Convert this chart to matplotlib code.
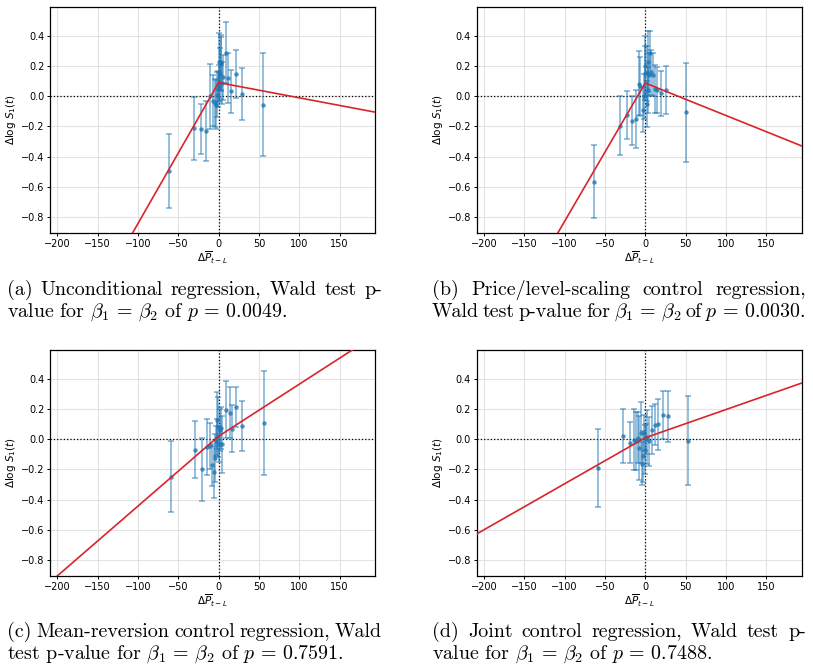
import numpy as np
import matplotlib
matplotlib.use('Agg')
import matplotlib.pyplot as plt
plt.close('all')

plt.rcParams['mathtext.fontset'] = 'cm'

# (a) unconditional regression
a_x = [-61, -31, -21.7, -15.5, -10.5, -7, -5, -3, -2, -1, 0, 1.5, 2.5, 3.5, 1, 4, 6, 9, 12, 16, 21.5, 28.5, 55.5, 0.5]
a_y = [-0.495, -0.213, -0.217, -0.23, 0.0, -0.03, -0.045, -0.055, 0.01, 0.05, 0.23, 0.15, 0.225, 0.215, 0.09, 0.09, 0.125, 0.29, 0.123, 0.032, 0.15, 0.016, -0.055, 0.06]
a_err = [0.245, 0.21, 0.168, 0.2, 0.215, 0.17, 0.16, 0.16, 0.15, 0.12, 0.19, 0.17, 0.18, 0.18, 0.12, 0.14, 0.15, 0.2, 0.165, 0.14, 0.158, 0.17, 0.344, 0.1]
a_fit = (0.091, 0.00935, -0.00101)   # intercept, slope below 0, slope above 0

# (b) price/level-scaling control
b_x = [-63.4, -31, -22, -16.1, -11.6, -8.3, -6.2, -3.3, -0.8, 0, -1.2, 2.5, 3.7, 5.8, 7, 9.1, 4.5, 11.6, 14.5, 19.5, 26, 50.1, 1.6, 2.9]
b_y = [-0.566, -0.195, -0.126, -0.161, -0.15, 0.082, 0.069, -0.088, 0.2, 0.153, 0.0, -0.051, 0.23, 0.285, 0.16, 0.144, 0.144, 0.049, 0.042, 0.02, 0.042, -0.106, 0.152, 0.042]
b_err = [0.24, 0.195, 0.16, 0.16, 0.19, 0.215, 0.19, 0.15, 0.2, 0.18, 0.15, 0.155, 0.2, 0.145, 0.15, 0.14, 0.14, 0.16, 0.15, 0.15, 0.16, 0.33, 0.18, 0.15]
b_fit = (0.088, 0.00917, -0.00215)

# (c) mean-reversion control
c_x = [-58.9, -29.5, -20.9, -14.5, -11, -8.2, -6.2, -4.1, -3.3, -2.4, -2, -0.8, 0.9, 2.1, 4.2, 3.3, 9.1, 13.7, 16.6, 21.5, 29.4, 56.8]
c_y = [-0.248, -0.069, -0.2, -0.053, -0.045, -0.172, -0.217, -0.124, -0.013, 0.015, 0.126, 0.082, -0.03, 0.06, -0.033, 0.075, 0.197, 0.177, 0.07, 0.214, 0.088, 0.106]
c_err = [0.237, 0.19, 0.21, 0.185, 0.15, 0.14, 0.17, 0.16, 0.1, 0.12, 0.19, 0.2, 0.12, 0.14, 0.19, 0.14, 0.19, 0.17, 0.155, 0.133, 0.167, 0.345]
c_fit = (0.02, 0.00463, 0.00345)

# (d) joint control
d_x = [-58, -27.3, -19.5, -14, -11.6, -9.1, -7.5, -5.8, -4.1, -2.9, -1.7, -0.8, 0.4, 2, 5, 8.7, 12.4, 15.7, 21.5, 28.2, 53.4]
d_y = [-0.192, 0.022, -0.022, -0.002, -0.011, 0.011, -0.057, 0.044, -0.161, -0.113, 0.042, -0.068, 0.0, 0.016, -0.014, 0.06, 0.097, 0.1, 0.159, 0.153, -0.011]
d_err = [0.257, 0.178, 0.137, 0.2, 0.19, 0.17, 0.21, 0.2, 0.14, 0.17, 0.12, 0.16, 0.1, 0.18, 0.16, 0.16, 0.135, 0.17, 0.16, 0.168, 0.295]
d_fit = (0.01, 0.00305, 0.00187)

# caption lines; True = justified to the full column width
captions = [
    [("(a) Unconditional regression, Wald test p-", True),
     (r"value for $\beta_1\,=\,\beta_2$ of $p\,=\,0.0049$.", False)],
    [("(b) Price/level-scaling control regression,", True),
     (r"Wald test p-value for $\beta_1\,=\,\beta_2$ of $p\,=\,0.0030$.", True)],
    [("(c) Mean-reversion control regression, Wald", True),
     (r"test p-value for $\beta_1\,=\,\beta_2$ of $p\,=\,0.7591$.", False)],
    [("(d) Joint control regression, Wald test p-", True),
     (r"value for $\beta_1\,=\,\beta_2$ of $p\,=\,0.7488$.", False)],
]


def draw_panel(ax, x, y, err, fit):
    b0, s_neg, s_pos = fit
    ax.grid(True, color='#dddddd', lw=0.8, alpha=0.8)
    ax.set_axisbelow(True)
    ax.axhline(0, color='k', ls=':', lw=0.9, zorder=1)
    ax.axvline(0, color='k', ls=':', lw=0.9, zorder=1)
    ax.errorbar(x, y, yerr=err, fmt='none', ecolor='#1f77b4', alpha=0.55,
                elinewidth=1.2, capsize=2.2, capthick=1.2, zorder=2)
    ax.scatter(x, y, s=10, color='#1f77b4', alpha=0.8, zorder=3, lw=0)
    xs = np.array([-220.0, 0.0, 220.0])
    ys = np.where(xs < 0, b0 + s_neg * xs, b0 + s_pos * xs)
    ax.plot(xs, ys, color='#d9242a', lw=1.2, zorder=4)
    ax.set_xlim(-209, 194.5)
    ax.set_ylim(-0.906, 0.592)
    ax.set_xticks([-200, -150, -100, -50, 0, 50, 100, 150])
    ax.set_yticks([-0.8, -0.6, -0.4, -0.2, 0.0, 0.2, 0.4])
    ax.tick_params(labelsize=7, length=2.5, width=0.7, pad=1.5)
    ax.set_xlabel(r'$\Delta\overline{P}_{t-L}$', fontsize=7.5, labelpad=1,
                  math_fontfamily='dejavusans')
    ax.set_ylabel(r'$\Delta \log\, S_1(t)$', fontsize=7.5, labelpad=2,
                  math_fontfamily='dejavusans')
    for s in ax.spines.values():
        s.set_linewidth(0.9)


def split_words(line):
    # keep $...$ pieces together with the words around them
    words, cur, inmath = [], '', False
    for ch in line:
        if ch == '$':
            inmath = not inmath
        if ch == ' ' and not inmath:
            if cur:
                words.append(cur)
            cur = ''
        else:
            cur += ch
    if cur:
        words.append(cur)
    return words


def put_line(fig, renderer, line, x0, x1, y, justify, size):
    kw = dict(family='cmr10', fontsize=size, ha='left', va='center')
    if not justify:
        fig.text(x0 / 813, y, line, **kw)
        return
    words = split_words(line)
    items = [fig.text(0, y, wd, **kw) for wd in words]
    widths = [t.get_window_extent(renderer).width for t in items]
    gap = (x1 - x0 - sum(widths)) / (len(words) - 1)
    pos = x0
    for t, wd in zip(items, widths):
        t.set_x(pos / 813)
        pos += wd + gap


def main():
    fig = plt.figure(figsize=(8.13, 6.72), dpi=100)
    w, h = 0.4003, 0.3363
    boxes = [(0.0615, 0.6533), (0.5863, 0.6533), (0.0615, 0.1429), (0.5863, 0.1429)]
    data = [(a_x, a_y, a_err, a_fit), (b_x, b_y, b_err, b_fit),
            (c_x, c_y, c_err, c_fit), (d_x, d_y, d_err, d_fit)]
    for (l, b), (x, y, e, f) in zip(boxes, data):
        ax = fig.add_axes([l, b, w, h])
        draw_panel(ax, x, y, e, f)

    renderer = fig.canvas.get_renderer()
    cap_pos = [(7, 382, 290), (432, 806, 290), (7, 382, 632), (432, 806, 632)]
    for (x0, x1, py), lines in zip(cap_pos, captions):
        for i, (line, just) in enumerate(lines):
            put_line(fig, renderer, line, x0, x1, 1 - (py + 22 * i) / 672, just, 14.4)

    fig.savefig('out.png', dpi=100)


main()
